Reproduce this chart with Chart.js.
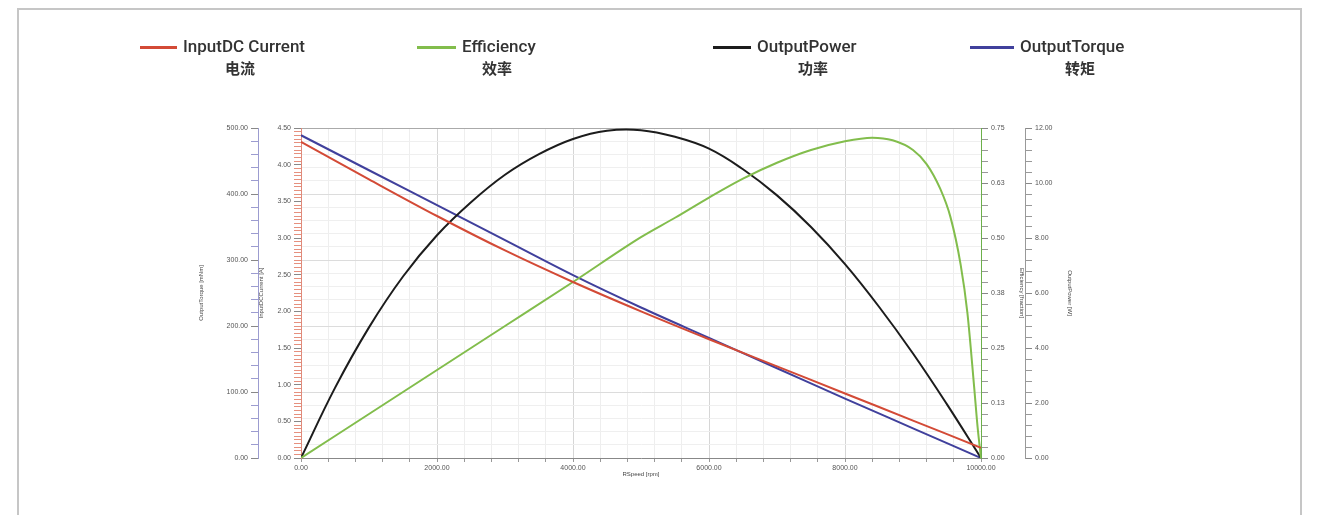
<!DOCTYPE html>
<html><head><meta charset="utf-8">
<script src="https://cdn.jsdelivr.net/npm/chart.js@4.4.1/dist/chart.umd.min.js"></script>
<style>
html,body{margin:0;padding:0;background:#fff;}
#wrap{position:relative;width:1318px;height:515px;overflow:hidden;}
#frame{position:absolute;left:17px;top:8px;width:1285px;height:600px;border:2px solid #c6c6c6;box-sizing:border-box;}
canvas{position:absolute;left:0;top:0;}
.lg{position:absolute;font-family:Roboto,"Noto Sans CJK SC",sans-serif;color:#333;white-space:nowrap;}
.en{font-size:17px;font-weight:500;}
.zh{font-family:"Noto Sans CJK SC",sans-serif;font-size:15px;font-weight:700;transform:translateX(-50%);}
.mk{position:absolute;height:3px;}
</style></head>
<body><div id="wrap"><div id="frame"></div><canvas id="c" width="1318" height="515"></canvas>
<div id="legend"></div></div>
<script>
// ---- data ----
const speed = [0,1000,2000,3000,4000,5000,6000,7000,8000,9000,10000];
const torque = [489,436,383,330,277,228,182,136,90,45,0];
const current = [4.31,3.80,3.30,2.83,2.40,2.00,1.62,1.25,0.88,0.51,0.14];
const powerSpeed = [0,500,1000,1500,2000,2500,3000,3500,4000,4500,5000,5500,6000,6500,7000,7500,8000,8500,9000,9500,10000];
const power = [0,2.55,4.75,6.6,8.1,9.3,10.3,11.05,11.6,11.9,11.92,11.68,11.25,10.5,9.55,8.4,7.05,5.5,3.8,1.95,0];
const effSpeed = [0,1000,2000,3000,4000,5000,5500,6000,6500,7000,7500,8000,8400,8700,9000,9200,9400,9550,9700,9800,9900,9950,10000];
const efficiency = [0,0.10,0.20,0.30,0.40,0.502,0.546,0.592,0.635,0.671,0.700,0.720,0.728,0.722,0.700,0.668,0.612,0.548,0.44,0.33,0.16,0.07,0];
const legendNames = ["InputDC Current","Efficiency","OutputPower","OutputTorque"];
const legendZh = ["电流","效率","功率","转矩"];
const colors = ["#d34a36","#82bd4c","#1c1c1c","#40409c"];
const xTitle = "RSpeed [rpm]";
const axisTitles = {torque:"OutputTorque [mNm]", current:"InputDCCurrent [A]", eff:"Efficiency [fraction]", power:"OutputPower [W]"};

// legend (HTML text)
const lgPos = [[140,183,240],[417,462,497],[713,757,813],[970,1020,1080]];
const L = document.getElementById('legend');
lgPos.forEach((p,i)=>{
  const m=document.createElement('div');m.className='mk';m.style.left=p[0]+'px';m.style.width=(p[1]-p[0]-6)+'px';m.style.top='46px';m.style.background=colors[i];L.appendChild(m);
  const e=document.createElement('div');e.className='lg en';e.style.left=p[1]+'px';e.style.top='36px';e.textContent=legendNames[i];L.appendChild(e);
  const z=document.createElement('div');z.className='lg zh';z.style.left=p[2]+'px';z.style.top='57px';z.textContent=legendZh[i];L.appendChild(z);
});

const pts=(xs,ys)=>xs.map((x,i)=>({x:x,y:ys[i]}));
const isMul=(v,s)=>Math.abs(v/s-Math.round(v/s))<1e-6;
const tickFont={family:"'Liberation Sans', Arial, sans-serif",size:7};
const titleFont={family:"'Liberation Sans', Arial, sans-serif",size:6};

function yAxis(pos,weight,min,max,step,major,width,title,border,tickCol,grid){
  return {type:'linear',position:pos,weight:weight,min:min,max:max,
    afterFit:s=>{s.width=width;},
    border:{display:true,color:border,width:1},
    grid:{drawOnChartArea:!!grid,drawTicks:true,tickLength:7,
      color:c=>isMul(c.tick.value,major)?'#dcdcdc':'#efefef',
      tickColor:c=>isMul(c.tick.value,major)?'#888':tickCol},
    ticks:{stepSize:step,autoSkip:false,padding:3,color:'#555',font:tickFont,
      callback:v=>isMul(v,major)?v.toFixed(2):''},
    title:{display:true,text:title,color:'#444',font:titleFont,padding:{top:0,bottom:0}}
  };
}

new Chart(document.getElementById('c'),{
  type:'line',
  data:{datasets:[
    {label:legendNames[0],data:pts(speed,current),yAxisID:'yCur',borderColor:colors[0]},
    {label:legendNames[1],data:pts(effSpeed,efficiency),yAxisID:'yEff',borderColor:colors[1]},
    {label:legendNames[2],data:pts(powerSpeed,power),yAxisID:'yPow',borderColor:colors[2],cubicInterpolationMode:'default',tension:0.4},
    {label:legendNames[3],data:pts(speed,torque),yAxisID:'yTor',borderColor:colors[3]}
  ]},
  options:{responsive:false,animation:false,
    layout:{padding:{left:198,right:245,top:128,bottom:37}},
    elements:{point:{radius:0},line:{borderWidth:2,cubicInterpolationMode:'monotone'}},
    plugins:{legend:{display:false},tooltip:{enabled:false}},
    scales:{
      x:{type:'linear',position:'bottom',min:0,max:10000,
        afterFit:s=>{s.height=20;},
        border:{display:true,color:'#888'},
        grid:{color:c=>isMul(c.tick.value,2000)?'#d6d6d6':'#eeeeee',tickLength:4,tickColor:'#999'},
        ticks:{stepSize:400,autoSkip:false,maxRotation:0,padding:2,color:'#555',font:tickFont,
          callback:v=>isMul(v,2000)?v.toFixed(2):''},
        title:{display:true,text:xTitle,color:'#444',font:titleFont,padding:{top:0,bottom:0}}},
      xTop:{type:'linear',position:'top',min:0,max:10000,
        afterFit:s=>{s.height=0;},
        border:{display:true,color:'#aaa'},grid:{display:false},ticks:{display:false}},
      yTor:yAxis('left',2,0,500,20,100,60,axisTitles.torque,'#9c9cd0','#9c9cd0',true),
      yCur:yAxis('left',1,0,4.5,0.05,0.5,43,axisTitles.current,'#e08a7a','#e6907e',false),
      yEff:yAxis('right',1,0,0.75,0.025,0.125,44,axisTitles.eff,'#6cb04a','#999',false),
      yPow:yAxis('right',2,0,12,0.4,2,48,axisTitles.power,'#999','#999',false)
    }
  }
});
</script></body></html>
